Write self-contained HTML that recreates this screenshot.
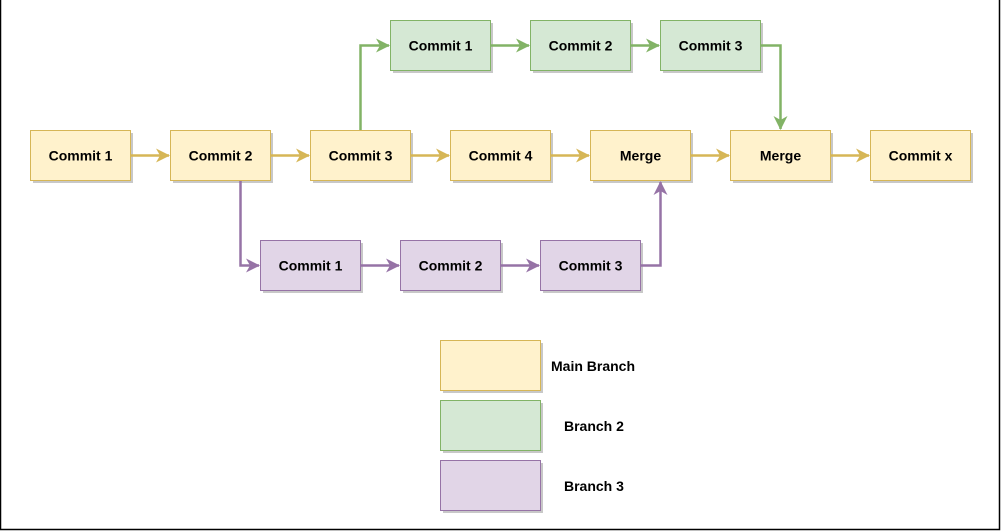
<!DOCTYPE html>
<html><head><meta charset="utf-8"><style>
html,body{margin:0;padding:0;background:#fff;}
svg{display:block;}
text{font-family:"Liberation Sans",Arial,sans-serif;font-weight:bold;font-size:14px;fill:#000;}
</style></head><body>
<svg width="1001" height="531" viewBox="0 0 1001 531" xmlns="http://www.w3.org/2000/svg">
<defs>
<marker id="ay" markerWidth="14" markerHeight="14" refX="13" refY="7" orient="auto" markerUnits="userSpaceOnUse" viewBox="0 0 14 14"><path d="M0,0 L14,7 L0,14 L4,7 Z" fill="#d6b656"/></marker>
<marker id="ag" markerWidth="14" markerHeight="14" refX="13" refY="7" orient="auto" markerUnits="userSpaceOnUse" viewBox="0 0 14 14"><path d="M0,0 L14,7 L0,14 L4,7 Z" fill="#82b366"/></marker>
<marker id="ap" markerWidth="14" markerHeight="14" refX="13" refY="7" orient="auto" markerUnits="userSpaceOnUse" viewBox="0 0 14 14"><path d="M0,0 L14,7 L0,14 L4,7 Z" fill="#9673a6"/></marker>
</defs>
<path d="M0.5,0 V529.5 H999.5 V0" fill="none" stroke="#000" stroke-width="1.5"/>

<g fill="#c8c8c8">
<rect x="33" y="133" width="100" height="50"/><rect x="173" y="133" width="100" height="50"/><rect x="313" y="133" width="100" height="50"/><rect x="453" y="133" width="100" height="50"/><rect x="593" y="133" width="100" height="50"/><rect x="733" y="133" width="100" height="50"/><rect x="873" y="133" width="100" height="50"/>
<rect x="393" y="23" width="100" height="50"/><rect x="533" y="23" width="100" height="50"/><rect x="663" y="23" width="100" height="50"/>
<rect x="263" y="243" width="100" height="50"/><rect x="403" y="243" width="100" height="50"/><rect x="543" y="243" width="100" height="50"/>
<rect x="443" y="343" width="100" height="50"/><rect x="443" y="403" width="100" height="50"/><rect x="443" y="463" width="100" height="50"/>
</g>

<g fill="#fff2cc" stroke="#d6b656">
<rect x="30.5" y="130.5" width="100" height="50"/><rect x="170.5" y="130.5" width="100" height="50"/><rect x="310.5" y="130.5" width="100" height="50"/><rect x="450.5" y="130.5" width="100" height="50"/><rect x="590.5" y="130.5" width="100" height="50"/><rect x="730.5" y="130.5" width="100" height="50"/><rect x="870.5" y="130.5" width="100" height="50"/>
<rect x="440.5" y="340.5" width="100" height="50"/>
</g>
<g fill="#d5e8d4" stroke="#82b366">
<rect x="390.5" y="20.5" width="100" height="50"/><rect x="530.5" y="20.5" width="100" height="50"/><rect x="660.5" y="20.5" width="100" height="50"/>
<rect x="440.5" y="400.5" width="100" height="50"/>
</g>
<g fill="#e1d5e7" stroke="#9673a6">
<rect x="260.5" y="240.5" width="100" height="50"/><rect x="400.5" y="240.5" width="100" height="50"/><rect x="540.5" y="240.5" width="100" height="50"/>
<rect x="440.5" y="460.5" width="100" height="50"/>
</g>

<g stroke="#d6b656" stroke-width="2.5" fill="none" marker-end="url(#ay)">
<path d="M131,155.5 H169"/><path d="M271,155.5 H309"/><path d="M411,155.5 H449"/><path d="M551,155.5 H589"/><path d="M691,155.5 H729"/><path d="M831,155.5 H869"/>
</g>
<g stroke="#82b366" stroke-width="2.5" fill="none" marker-end="url(#ag)">
<path d="M360.5,130 V45.5 H389"/><path d="M491,45.5 H529"/><path d="M631,45.5 H659"/><path d="M761,45.5 H780.5 V129"/>
</g>
<g stroke="#9673a6" stroke-width="2.5" fill="none" marker-end="url(#ap)">
<path d="M240.5,181 V265.5 H259"/><path d="M361,265.5 H399"/><path d="M501,265.5 H539"/><path d="M641,265.5 H660.5 V182"/>
</g>

<g text-anchor="middle">
<text x="80.5" y="160.5">Commit 1</text><text x="220.5" y="160.5">Commit 2</text><text x="360.5" y="160.5">Commit 3</text><text x="500.5" y="160.5">Commit 4</text><text x="640.5" y="160.5">Merge</text><text x="780.5" y="160.5">Merge</text><text x="920.5" y="160.5">Commit x</text>
<text x="440.5" y="50.5">Commit 1</text><text x="580.5" y="50.5">Commit 2</text><text x="710.5" y="50.5">Commit 3</text>
<text x="310.5" y="270.5">Commit 1</text><text x="450.5" y="270.5">Commit 2</text><text x="590.5" y="270.5">Commit 3</text>
</g>
<text x="551" y="371">Main Branch</text>
<text x="564" y="431">Branch 2</text>
<text x="564" y="491">Branch 3</text>
</svg>
</body></html>
